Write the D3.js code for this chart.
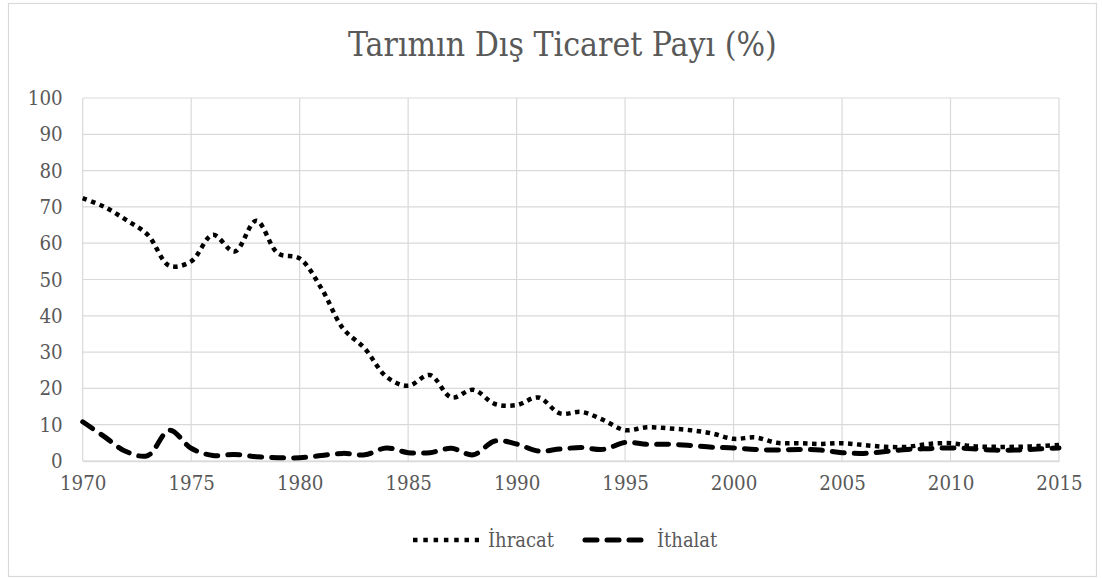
<!DOCTYPE html>
<html><head><meta charset="utf-8">
<script src="https://cdn.jsdelivr.net/npm/d3@7"></script>
<style>
html,body{margin:0;padding:0;background:#fff;}
svg{display:block;}
</style></head>
<body>
<svg id="chart" width="1103" height="578"></svg>
<script>
const title = "Tarımın Dış Ticaret Payı (%)";
const years = d3.range(1970, 2016);
const xTicks = [1970,1975,1980,1985,1990,1995,2000,2005,2010,2015];
const yTicks = [0,10,20,30,40,50,60,70,80,90,100];
const seriesNames = ["İhracat","İthalat"];
const ihracat = [72.4,70.0,66.4,62.3,53.8,55.0,62.3,57.7,66.2,57.2,
                 55.8,47.6,36.5,31.0,23.2,20.7,23.7,17.5,19.6,15.7,
                 15.4,17.5,13.1,13.5,11.3,8.5,9.3,9.0,8.5,7.6,
                 6.1,6.5,5.0,4.9,4.7,4.9,4.4,3.9,3.9,4.7,
                 4.9,4.1,3.9,3.9,4.1,4.4];
const ithalat = [10.8,6.7,2.6,1.5,8.5,3.5,1.5,1.8,1.2,0.9,
                 0.9,1.5,2.1,1.7,3.6,2.3,2.3,3.5,1.7,5.5,
                 4.7,2.75,3.3,3.7,3.2,5.1,4.6,4.6,4.3,3.8,
                 3.6,3.2,3.0,3.2,3.0,2.3,2.1,2.6,3.2,3.4,
                 3.6,3.4,3.0,3.0,3.3,3.6];

const FONT = "'DejaVu Serif Condensed','DejaVu Serif',serif";
const svg = d3.select("#chart");
const pLeft = 82.7, pRight = 1059, pTop = 98, pBottom = 461;
const x = d3.scaleLinear().domain([1970, 2015]).range([pLeft, pRight]);
const y = d3.scaleLinear().domain([0, 100]).range([pBottom, pTop]);

// fit a font size so a sample text gets the wanted width
function fitSize(text, wanted) {
  const t = svg.append("text").attr("font-family",FONT).attr("font-size",100).text(text);
  const w = t.node().getComputedTextLength();
  t.remove();
  return 100 * wanted / w;
}
const labelSize = fitSize("1970", 46.5);
const titleSize = fitSize(title, 429);
const legendSize = fitSize("İhracat", 66);

svg.append("rect").attr("x",8.5).attr("y",3.5).attr("width",1088).attr("height",573)
  .attr("fill","#fff").attr("stroke","#d9d9d9").attr("stroke-width",1.2);

svg.append("text").attr("x",562.5).attr("y",56).attr("text-anchor","middle")
  .attr("font-family",FONT).attr("fill","#595959")
  .attr("font-size",titleSize).text(title);

const grid = svg.append("g");
grid.selectAll("line.h").data(yTicks).join("line")
  .attr("x1",pLeft).attr("x2",pRight).attr("y1",d=>y(d)).attr("y2",d=>y(d))
  .attr("stroke","#d9d9d9").attr("stroke-width",1.2);
grid.selectAll("line.v").data(xTicks).join("line")
  .attr("y1",pTop).attr("y2",pBottom).attr("x1",d=>x(d)).attr("x2",d=>x(d))
  .attr("stroke","#d9d9d9").attr("stroke-width",1.2);

const xAxis = svg.append("g").attr("transform",`translate(0,${pBottom})`)
  .call(d3.axisBottom(x).tickValues(xTicks).tickFormat(d3.format("d")).tickSize(0).tickPadding(15))
  .attr("font-family",FONT).attr("font-size",labelSize);
xAxis.select(".domain").attr("stroke","#d9d9d9").attr("stroke-width",1.5);
xAxis.selectAll("text").attr("fill","#595959");

const yAxis = svg.append("g").attr("transform",`translate(${pLeft},0)`)
  .call(d3.axisLeft(y).tickValues(yTicks).tickSize(0).tickPadding(20))
  .attr("font-family",FONT).attr("font-size",labelSize);
yAxis.select(".domain").remove();
yAxis.selectAll("text").attr("fill","#595959");

const line = d3.line().x((d,i)=>x(years[i])).y(d=>y(d)).curve(d3.curveCatmullRom.alpha(0.5));
svg.append("path").datum(ihracat).attr("d",line).attr("fill","none")
  .attr("stroke","#000").attr("stroke-width",4.5).attr("stroke-dasharray","4.5 4.5");
svg.append("path").datum(ithalat).attr("d",line).attr("fill","none")
  .attr("stroke","#000").attr("stroke-width",5).attr("stroke-linecap","round").attr("stroke-dasharray","12 10");

const lg = svg.append("g").attr("font-family",FONT).attr("font-size",legendSize).attr("fill","#595959");
lg.append("line").attr("x1",413).attr("x2",479).attr("y1",540).attr("y2",540)
  .attr("stroke","#000").attr("stroke-width",4.5).attr("stroke-dasharray","4.5 5.8");
lg.append("text").attr("x",488).attr("y",547).text(seriesNames[0]);
lg.append("line").attr("x1",585).attr("x2",650).attr("y1",540).attr("y2",540)
  .attr("stroke","#000").attr("stroke-width",5).attr("stroke-linecap","round").attr("stroke-dasharray","12 10");
lg.append("text").attr("x",657).attr("y",547).text(seriesNames[1]);
</script>
</body></html>
